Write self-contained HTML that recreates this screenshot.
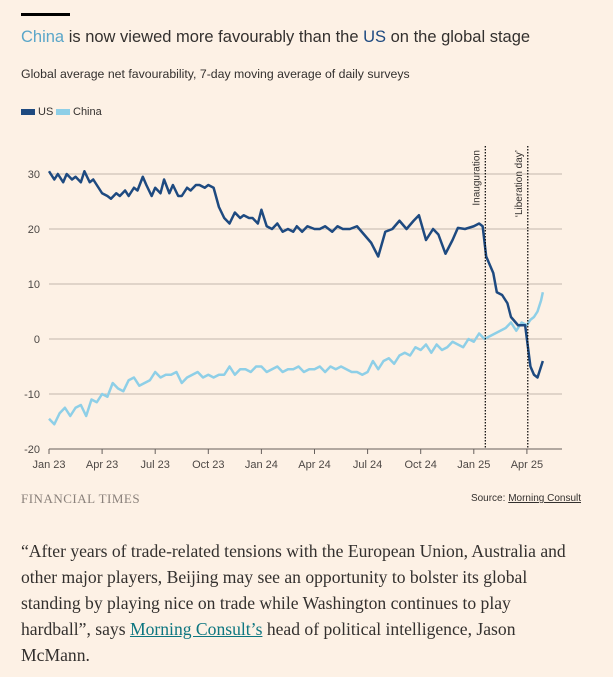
<!DOCTYPE html>
<html><head><meta charset="utf-8">
<style>
body{margin:0;background:#fdf1e5;width:613px;height:677px;overflow:hidden;font-family:"Liberation Sans",sans-serif;position:relative}
.abs{position:absolute}
</style></head><body>
<div class="abs" style="left:21px;top:13px;width:49px;height:3px;background:#000"></div>
<div class="abs" style="left:21px;top:28px;font-size:16.5px;color:#33302e;white-space:nowrap"><span style="color:#5aa6c9">China</span> is now viewed more favourably than the <span style="color:#1e4a80">US</span> on the global stage</div>
<div class="abs" style="left:21px;top:67px;font-size:12.3px;color:#33302e">Global average net favourability, 7-day moving average of daily surveys</div>
<div class="abs" style="left:21px;top:106px;font-size:11px;color:#33302e"><span style="display:inline-block;width:14px;height:6px;background:#1e4a80;margin-right:3px"></span>US</div>
<div class="abs" style="left:56px;top:106px;font-size:11px;color:#33302e"><span style="display:inline-block;width:14px;height:6px;background:#8ecfe7;margin-right:3px"></span>China</div>
<svg class="abs" style="left:0;top:0" width="613" height="480" id="chart"></svg>
<div class="abs" style="left:21px;top:491px;font-family:'Liberation Serif',serif;font-size:13px;color:#8a817b;letter-spacing:0.5px">FINANCIAL TIMES</div>
<div class="abs" style="right:32px;top:493px;font-size:10px;color:#33302e">Source: <u>Morning Consult</u></div>
<div class="abs" style="left:21px;top:538px;white-space:nowrap;font-family:'Liberation Serif',serif;font-size:17.6px;line-height:26px;color:#33302e">“After years of trade-related tensions with the European Union, Australia and<br>other major players, Beijing may see an opportunity to bolster its global<br>standing by playing nice on trade while Washington continues to play<br>hardball”, says <a style="color:#0d7680;text-decoration:underline">Morning Consult’s</a> head of political intelligence, Jason<br>McMann.</div>
<script>
const tickLabels=["Jan 23","Apr 23","Jul 23","Oct 23","Jan 24","Apr 24","Jul 24","Oct 24","Jan 25","Apr 25"];
const tickMonths=[0,3,6,9,12,15,18,21,24,27];
const yTicks=[30,20,10,0,-10,-20];
const usMonths=[0,0.3,0.5,0.8,1,1.3,1.5,1.8,2,2.3,
 2.5,2.8,3,3.3,3.5,3.8,4,4.3,4.5,4.8,
 5,5.3,5.5,5.8,6,6.3,6.5,6.8,7,7.3,
 7.5,7.8,8,8.3,8.5,8.8,9,9.3,9.6,9.9,
 10.2,10.5,10.8,11,11.3,11.5,11.8,12,12.3,12.6,
 12.9,13.2,13.5,13.8,14,14.3,14.6,15,15.3,15.6,
 16,16.3,16.6,17,17.4,17.8,18.2,18.6,19,19.4,
 19.8,20.2,20.6,20.9,21.3,21.7,22,22.4,22.8,23.1,
 23.5,24,24.3,24.5,24.7,25.1,25.3,25.6,25.9,26.1,
 26.5,26.9,27.2,27.4,27.6,27.75,27.9];
const usValues=[30.5,29,30,28.5,30,29,29.5,28.5,30.5,28.5,
 29,27.5,26.5,26,25.5,26.5,26,27,26,27.5,
 27,29.5,28,26,27.5,26.5,29,26.5,28,26,
 26,27.5,27,28,28,27.5,28,27.5,24,22,
 21,23,22,22.5,22,22,21,23.5,20.5,20,
 21,19.5,20,19.5,20.5,19.5,20.5,20,20,20.5,
 19.5,20.5,20,20,20.5,19,17.5,15,19.5,20,
 21.5,20,21.5,22.5,18,20,19,15.5,18,20.2,
 20,20.5,21,20.5,15,12,8.5,8,6.5,4,
 2.5,2.5,-5,-6.5,-7,-5.5,-4];
const cnMonths=[0,0.3,0.6,0.9,1.2,1.5,1.8,2.1,2.4,2.7,3,3.3,3.6,3.9,4.2,4.5,4.8,5.1,5.4,5.7,6,6.3,6.6,6.9,7.2,7.5,7.8,8.1,8.4,8.7,9,9.3,9.6,9.9,10.2,10.5,10.8,11.1,11.4,11.7,12,12.3,12.6,12.9,13.2,13.5,13.8,14.1,14.4,14.7,15,15.3,15.6,15.9,16.2,16.5,16.8,17.1,17.4,17.7,18,18.3,18.6,18.9,19.2,19.5,19.8,20.1,20.4,20.7,21,21.3,21.6,21.9,22.2,22.5,22.8,23.1,23.4,23.7,24,24.3,24.6,24.9,25.2,25.5,25.8,26.1,26.4,26.7,27,27.2,27.4,27.6,27.8,27.9];
const cnValues=[-14.5,-15.5,-13.5,-12.5,-14,-12.5,-12,-14,-11,-11.5,-10,-10.5,-8,-9,-9.5,-7.5,-7,-8.5,-8,-7.5,-6,-7,-6.5,-6.5,-6,-8,-7,-6.5,-6,-7,-6.5,-7,-6.5,-6.5,-5,-6.5,-5.5,-5.5,-6,-5,-5,-6,-5.5,-5,-6,-5.5,-5.5,-5,-6,-5.5,-5.5,-5,-6,-5,-5.5,-5,-5.5,-6,-6,-6.5,-6,-4,-5.5,-4,-3.5,-4.5,-3,-2.5,-3,-1.5,-2,-1,-2.5,-1,-2,-1.5,-0.5,-1,-1.5,0,-0.5,1,0,0.5,1,1.5,2,3,1.5,3,2.5,3.5,4,5,7,8.5,9.5,9];
const eventMonths=[24.65,27.05];
const eventLabels=["Inauguration","\u2018Liberation day\u2019"];
const NS="http://www.w3.org/2000/svg";
const svg=document.getElementById('chart');
const x0=49,xPerMonth=53.1/3,yTop=174,yPer=5.5;
function xs(m){return x0+m*xPerMonth;}
function ys(v){return yTop+(30-v)*yPer;}
function mk(tag,attrs){const e=document.createElementNS(NS,tag);for(const k in attrs)e.setAttribute(k,attrs[k]);svg.appendChild(e);return e;}
yTicks.forEach(v=>{
 if(v>-20){const g=mk('line',{x1:x0,x2:562,y1:ys(v),y2:ys(v),stroke:'#c4b8ad','stroke-width':1});
 
 }
 const t=mk('text',{x:40,y:ys(v)+4,'text-anchor':'end','font-size':11,fill:'#4d4845','font-family':'Liberation Sans'});
 t.textContent=v;
 
 
});
const ax=mk('line',{x1:x0,x2:562,y1:ys(-20),y2:ys(-20),stroke:'#66605c','stroke-width':1});


tickMonths.forEach((m,i)=>{
 const tk=mk('line',{x1:xs(m),x2:xs(m),y1:ys(-20),y2:ys(-20)+5,stroke:'#66605c'});
 
 
 const t=mk('text',{x:xs(m),y:468,'text-anchor':'middle','font-size':11,fill:'#4d4845','font-family':'Liberation Sans'});
 t.textContent=tickLabels[i];
 
 
});
function line(ms,vs,col,name){
 const p=mk('polyline',{points:ms.map((m,i)=>xs(m)+','+ys(vs[i])).join(' '),fill:'none',stroke:col,'stroke-width':2.5,'stroke-linejoin':'round'});
 
 
}
line(cnMonths,cnValues,'#8ecfe7','china-line');
line(usMonths,usValues,'#1e4a80','us-line');
eventMonths.forEach((m,i)=>{
 const l=mk('line',{x1:xs(m),x2:xs(m),y1:146,y2:ys(-20),stroke:'#000','stroke-width':1.2,'stroke-dasharray':'1.5,1.5'});
 
 
 const t=mk('text',{transform:`translate(${xs(m)-6},150) rotate(-90)`,'text-anchor':'end','font-size':10,fill:'#33302e','font-family':'Liberation Sans'});
 t.textContent=eventLabels[i];
 
 
});
</script>
</body></html>
